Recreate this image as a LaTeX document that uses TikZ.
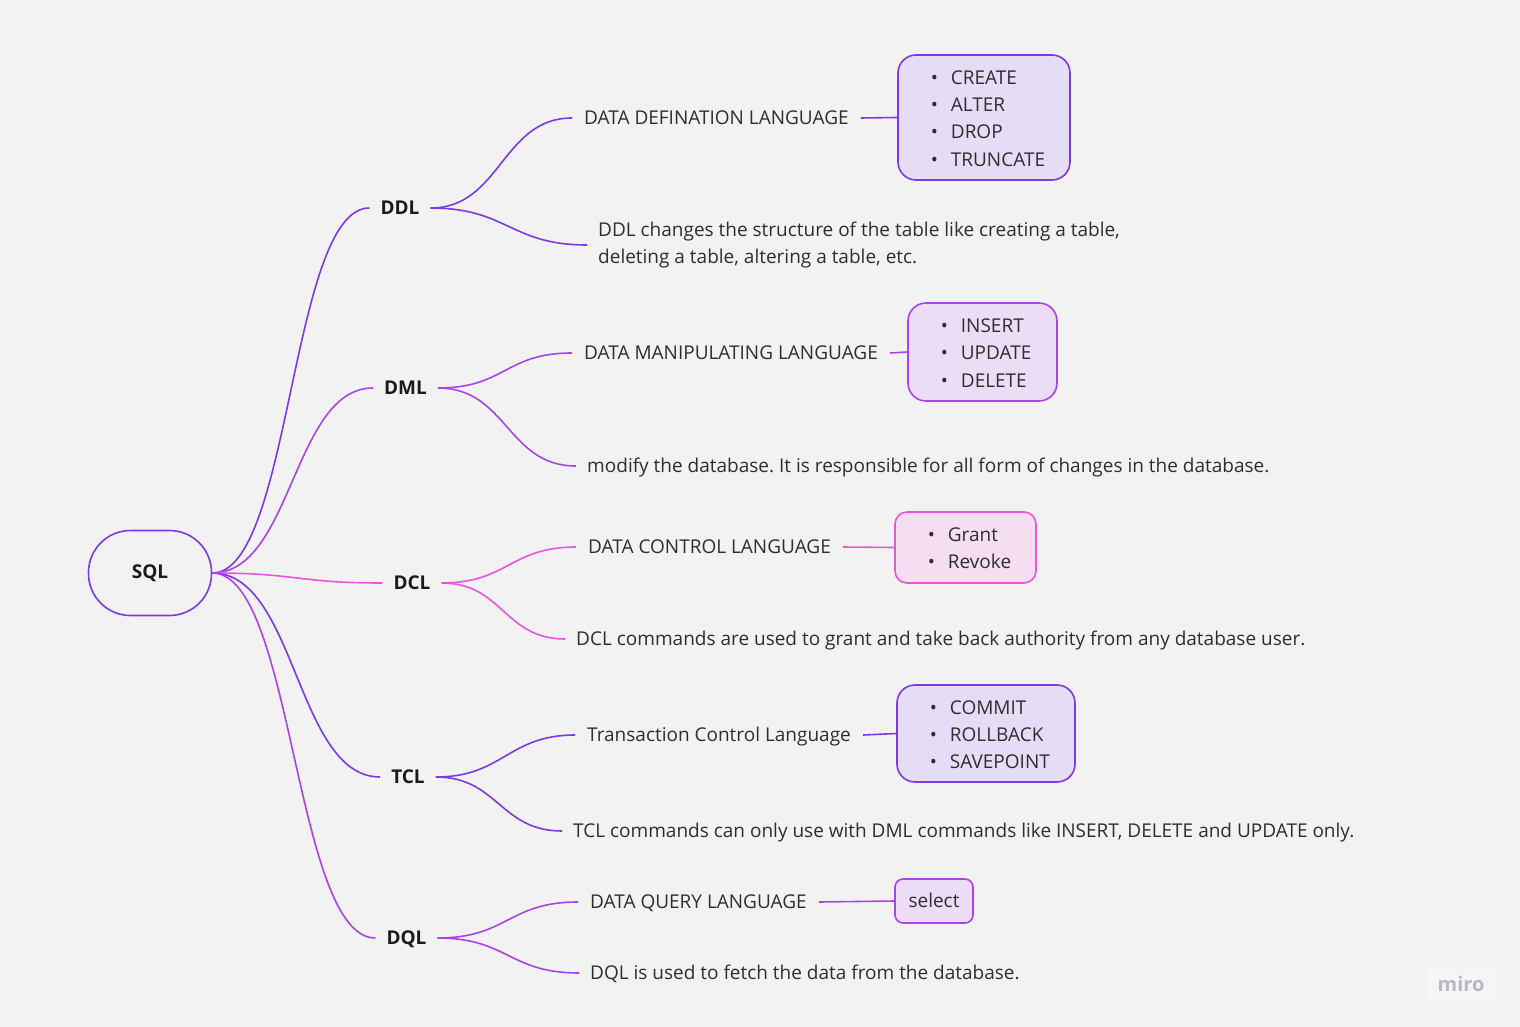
\documentclass[tikz,border=0pt]{standalone}
\usepackage{fontspec}
\setmainfont{Open Sans}
\frenchspacing
\definecolor{bg}{HTML}{F2F2F2}
\definecolor{cV}{HTML}{7B3AE6}
\definecolor{cP}{HTML}{A945E8}
\definecolor{cK}{HTML}{EA55DF}
\definecolor{fV}{HTML}{E5DCF5}
\definecolor{fP}{HTML}{ECDCF5}
\definecolor{fK}{HTML}{F5DEF2}
\definecolor{txt}{HTML}{2E2E2E}
\definecolor{txtB}{HTML}{1A1A1A}
\definecolor{miroC}{HTML}{B8B8C6}
\definecolor{miroBg}{HTML}{F5F5F5}
\newcommand{\bul}{\makebox[20pt][l]{•}}
\begin{document}
\begin{tikzpicture}[x=1pt,y=-1pt,
  conn/.style={line width=1.6pt},
  lbl/.style={font=\fontsize{19}{27}\selectfont\bfseries, text=txtB, inner xsep=11pt, inner ysep=2pt, text height=13.6pt, text depth=0pt},
  ttl/.style={font=\fontsize{19}{27}\selectfont, text=txt, inner xsep=12pt, inner ysep=2pt, text height=13.6pt, text depth=0pt, anchor=west},
  desc/.style={font=\fontsize{19}{27}\selectfont\frenchspacing, text=txt, inner xsep=11pt, inner ysep=0pt, align=left, anchor=west},
  itemsbox/.style={draw, line width=1.6pt, rounded corners=18pt},
  items/.style={font=\fontsize{19}{27.3}\selectfont, text=txt, inner sep=0pt, align=left, anchor=west, text depth=0pt}
]
\useasboundingbox (0,0) rectangle (1520,1027);
\fill[bg] (0,0) rectangle (1520,1027);

% root
\node[draw=cV, line width=1.6pt, rounded corners=42pt, minimum width=123pt, minimum height=85pt, font=\fontsize{19}{22}\selectfont\bfseries, text=txtB] (sql) at (150,573) {SQL};

% level 1
\node[lbl] (ddl) at (400,208) {DDL};
\node[lbl] (dml) at (405.5,388) {DML};
\node[lbl] (dcl) at (412,583) {DCL};
\node[lbl] (tcl) at (408,777) {TCL};
\node[lbl] (dql) at (406.5,938) {DQL};

\draw[conn, cV] (sql.east) .. controls +(79,0) and +(-79,0) .. (ddl.west);
\draw[conn, cP] (sql.east) .. controls +(80,0) and +(-80,0) .. (dml.west);
\draw[conn, cK] (sql.east) .. controls +(85,0) and +(-85,0) .. (dcl.west);
\draw[conn, cV] (sql.east) .. controls +(84,0) and +(-84,0) .. (tcl.west);
\draw[conn, cP] (sql.east) .. controls +(81,0) and +(-81,0) .. (dql.west);

% DDL branch
\node[ttl] (t1) at (572,118) {DATA DEFINATION LANGUAGE};
\node[desc] (d1) at (587,245) {DDL changes the structure of the table like creating a table,\\deleting a table, altering a table, etc.};
\node[itemsbox, draw=cV, fill=fV, minimum width=172pt, minimum height=125pt] (b1) at (984,117.5) {};
\node[items, text height=95.5pt] (i1) at ([xshift=33.5pt, yshift=-1pt]b1.west) {\bul CREATE\\\bul ALTER\\\bul DROP\\\bul TRUNCATE};
\draw[conn, cV] (ddl.east) .. controls +(70,0) and +(-70,0) .. (t1.west);
\draw[conn, cV] (ddl.east) .. controls +(77,0) and +(-77,0) .. (d1.west);
\draw[conn, cV] (t1.east) -- (b1.west);

% DML branch
\node[ttl] (t2) at (572,353) {DATA MANIPULATING LANGUAGE};
\node[desc, text height=13.6pt, text depth=0pt] (d2) at (576,466) {modify the database. It is responsible for all form of changes in the database.};
\node[itemsbox, draw=cP, fill=fP, minimum width=149pt, minimum height=98pt] (b2) at (982.5,352) {};
\node[items, text height=68.2pt] (i2) at ([xshift=33.5pt, yshift=-1pt]b2.west) {\bul INSERT\\\bul UPDATE\\\bul DELETE};
\draw[conn, cP] (dml.east) .. controls +(67,0) and +(-67,0) .. (t2.west);
\draw[conn, cP] (dml.east) .. controls +(69,0) and +(-69,0) .. (d2.west);
\draw[conn, cP] (t2.east) -- (b2.west);

% DCL branch
\node[ttl] (t3) at (576,547) {DATA CONTROL LANGUAGE};
\node[desc, text height=13.6pt, text depth=0pt] (d3) at (565,639) {DCL commands are used to grant and take back authority from any database user.};
\node[itemsbox, draw=cK, fill=fK, minimum width=141pt, minimum height=71pt, rounded corners=12pt] (b3) at (965.5,547.5) {};
\node[items, text height=40.9pt] (i3) at ([xshift=33.5pt, yshift=-1pt]b3.west) {\bul Grant\\\bul Revoke};
\draw[conn, cK] (dcl.east) .. controls +(66,0) and +(-66,0) .. (t3.west);
\draw[conn, cK] (dcl.east) .. controls +(61,0) and +(-61,0) .. (d3.west);
\draw[conn, cK] (t3.east) -- (b3.west);

% TCL branch
\node[ttl] (t4) at (575,735) {Transaction Control Language};
\node[desc, text height=13.6pt, text depth=0pt] (d4) at (562,831) {TCL commands can only use with DML commands like INSERT, DELETE and UPDATE only.};
\node[itemsbox, draw=cV, fill=fV, minimum width=178pt, minimum height=97pt] (b4) at (986,733.5) {};
\node[items, text height=68.2pt] (i4) at ([xshift=33.5pt, yshift=-1pt]b4.west) {\bul COMMIT\\\bul ROLLBACK\\\bul SAVEPOINT};
\draw[conn, cV] (tcl.east) .. controls +(67,0) and +(-67,0) .. (t4.west);
\draw[conn, cV] (tcl.east) .. controls +(62,0) and +(-62,0) .. (d4.west);
\draw[conn, cV] (t4.east) -- (b4.west);

% DQL branch
\node[ttl] (t5) at (578,902) {DATA QUERY LANGUAGE};
\node[desc, text height=13.6pt, text depth=0pt] (d5) at (579,973) {DQL is used to fetch the data from the database.};
\node[itemsbox, draw=cP, fill=fP, minimum width=78pt, minimum height=44pt, rounded corners=8pt, font=\fontsize{19}{22}\selectfont, text=txt, text height=13.6pt, text depth=0pt] (b5) at (934,901) {select};
\draw[conn, cP] (dql.east) .. controls +(70,0) and +(-70,0) .. (t5.west);
\draw[conn, cP] (dql.east) .. controls +(70,0) and +(-70,0) .. (d5.west);
\draw[conn, cP] (t5.east) -- (b5.west);

% watermark
\node[fill=miroBg, rounded corners=2pt, minimum width=70pt, minimum height=34pt, font=\fontsize{20}{20}\selectfont\bfseries, text=miroC] (miro) at (1461,984) {miro};
\end{tikzpicture}
\end{document}
